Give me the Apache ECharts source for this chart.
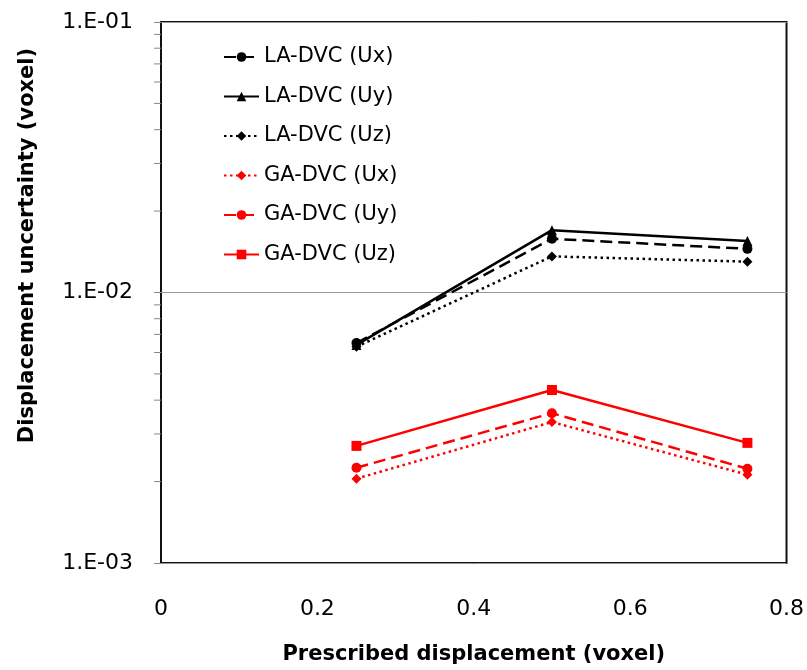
<!DOCTYPE html>
<html>
<head>
<meta charset="utf-8">
<script src="https://cdn.jsdelivr.net/npm/echarts@6/dist/echarts.min.js"></script>
<style>html,body{margin:0;padding:0;background:#fff}#c{width:807px;height:670px}</style>
</head>
<body>
<div id="c"></div>
<script>
const xValues = [0.25, 0.5, 0.75];
const laUx = [0.0065, 0.0158, 0.0145];
const laUy = [0.0064, 0.0170, 0.0155];
const laUz = [0.0063, 0.0136, 0.0130];
const gaUx = [0.00205, 0.00332, 0.00212];
const gaUy = [0.00225, 0.00358, 0.00223];
const gaUz = [0.00271, 0.00436, 0.00278];
const seriesNames = ['LA-DVC (Ux)', 'LA-DVC (Uy)', 'LA-DVC (Uz)', 'GA-DVC (Ux)', 'GA-DVC (Uy)', 'GA-DVC (Uz)'];
const yTickLabels = ['1.E-03', '1.E-02', '1.E-01'];
const xTickLabels = ['0', '0.2', '0.4', '0.6', '0.8'];
const minorTickValues = [0.002,0.003,0.004,0.005,0.006,0.007,0.008,0.009,0.02,0.03,0.04,0.05,0.06,0.07,0.08,0.09];

const FONT = 'DejaVu Sans';
const pair = arr => xValues.map((x, i) => [x, arr[i]]);

function mk(name, data, color, type, symbol) {
  return {
    name: name, type: 'line', data: pair(data),
    symbol: symbol, symbolSize: 10,
    lineStyle: { color: color, width: 2.5, type: type },
    itemStyle: { color: color },
    z: 3
  };
}
const dash = [12, 6];
const dot = [2.5, 3.5];

const chart = echarts.init(document.getElementById('c'), null, { renderer: 'canvas' });
chart.setOption({
  animation: false,
  backgroundColor: '#fff',
  grid: { left: 161, right: 20, top: 22, bottom: 107, show: true, borderColor: '#111', borderWidth: 2, backgroundColor: 'transparent' },
  legend: {
    orient: 'vertical', left: 218, top: 40,
    itemWidth: 35, itemHeight: 12, itemGap: 15.5,
    data: seriesNames,
    textStyle: { fontFamily: FONT, fontSize: 21, color: '#000', lineHeight: 24, padding: [0, 0, 0, 0] }
  },
  xAxis: {
    type: 'value', min: 0, max: 0.8, interval: 0.2,
    axisLine: { show: false }, axisTick: { show: false }, splitLine: { show: false },
    axisLabel: { fontFamily: FONT, fontSize: 22, color: '#000', margin: 35,
      formatter: (v) => xTickLabels[Math.round(v / 0.2)] },
    name: 'Prescribed displacement (voxel)', nameLocation: 'middle', nameGap: 81,
    nameTextStyle: { fontFamily: FONT, fontSize: 21, fontWeight: 'bold', color: '#000' }
  },
  yAxis: {
    type: 'log', logBase: 10, min: 0.001, max: 0.1,
    axisLine: { show: false },
    axisTick: { show: true, length: 7, inside: false, lineStyle: { color: '#888', width: 1 } },
    splitLine: { show: true, lineStyle: { color: '#999', width: 1 } },
    axisLabel: { fontFamily: FONT, fontSize: 22, color: '#000', margin: 28,
      formatter: (v, i) => yTickLabels[Math.round(Math.log10(v)) + 3] },
    name: 'Displacement uncertainty (voxel)', nameLocation: 'middle', nameGap: 123,
    nameTextStyle: { fontFamily: FONT, fontSize: 21, fontWeight: 'bold', color: '#000', padding: [0, 0, 0, 94] }
  },
  series: [
    mk(seriesNames[0], laUx, '#000', dash, 'circle'),
    mk(seriesNames[1], laUy, '#000', 'solid', 'triangle'),
    mk(seriesNames[2], laUz, '#000', dot, 'diamond'),
    mk(seriesNames[3], gaUx, '#ff0000', dot, 'diamond'),
    mk(seriesNames[4], gaUy, '#ff0000', dash, 'circle'),
    mk(seriesNames[5], gaUz, '#ff0000', 'solid', 'rect'),
    {
      name: 'minorTicks', type: 'custom', silent: true, clip: false,
      data: minorTickValues.map(v => [0, v]),
      renderItem: function (params, api) {
        const p = api.coord([0, api.value(1)]);
        return { type: 'line', shape: { x1: p[0] - 7, y1: p[1], x2: p[0], y2: p[1] },
          style: { stroke: '#888', lineWidth: 1 } };
      }
    }
  ]
});
</script>
</body>
</html>
